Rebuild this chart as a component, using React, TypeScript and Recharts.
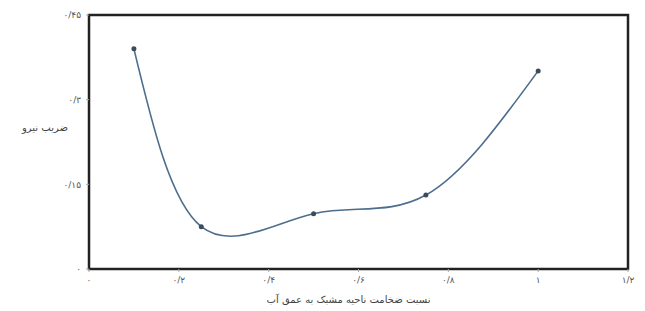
import {
  LineChart,
  Line,
  XAxis,
  YAxis,
  ReferenceArea,
  Label,
} from "recharts";

const ratios = [0.1, 0.25, 0.5, 0.75, 1.0];
const forceCoef = [0.39, 0.075, 0.098, 0.131, 0.351];
const xTicks = [0, 0.2, 0.4, 0.6, 0.8, 1, 1.2];
const yTicks = [0, 0.15, 0.3, 0.45];

const xTitle = "نسبت ضخامت ناحیه مشبک به عمق آب";
const yTitle = "ضریب نیرو";

const data = ratios.map((r, i) => ({ r, f: forceCoef[i] }));

const faDigits = "۰۱۲۳۴۵۶۷۸۹";
const toFa = (v: number) =>
  String(v)
    .replace(".", "/")
    .replace(/[0-9]/g, (d) => faDigits[Number(d)]);

const font = "DejaVu Sans, sans-serif";

export default function App() {
  return (
    <div style={{ position: "absolute", left: 0, top: 0, background: "#fff" }}>
      <LineChart
        width={645}
        height={311}
        data={data}
        margin={{ top: 15, right: 17, left: 0, bottom: 0 }}
        style={{ fontFamily: font }}
      >
        <XAxis
          dataKey="r"
          type="number"
          domain={[0, 1.2]}
          ticks={xTicks}
          tickFormatter={toFa}
          axisLine={false}
          tickLine={{ stroke: "#aaa" }}
          tickSize={3}
          tickMargin={5}
          tick={{ fontSize: 9, fill: "#555" }}
          height={42}
        >
          <Label
            value={xTitle}
            position="insideBottom"
            offset={8}
            dx={-10}
            style={{ fontSize: 10, fill: "#444", fontFamily: font }}
          />
        </XAxis>
        <YAxis
          type="number"
          domain={[0, 0.45]}
          ticks={yTicks}
          tickFormatter={toFa}
          axisLine={false}
          tickLine={{ stroke: "#aaa" }}
          tickSize={3}
          tickMargin={5}
          tick={{ fontSize: 9, fill: "#555" }}
          width={89}
        >
          <Label
            value={yTitle}
            position="insideLeft"
            offset={22}
            dy={-15}
            style={{ fontSize: 10, fill: "#444", fontFamily: font }}
          />
        </YAxis>
        <ReferenceArea
          x1={0}
          x2={1.2}
          y1={0}
          y2={0.45}
          fill="none"
          stroke="#222"
          strokeWidth={2.5}
          ifOverflow="visible"
        />
        <Line
          type="natural"
          dataKey="f"
          stroke="#4d6d8c"
          strokeWidth={1.6}
          dot={{ r: 2.5, fill: "#3b4b5c", stroke: "none" }}
          activeDot={false}
          isAnimationActive={false}
        />
      </LineChart>
    </div>
  );
}
